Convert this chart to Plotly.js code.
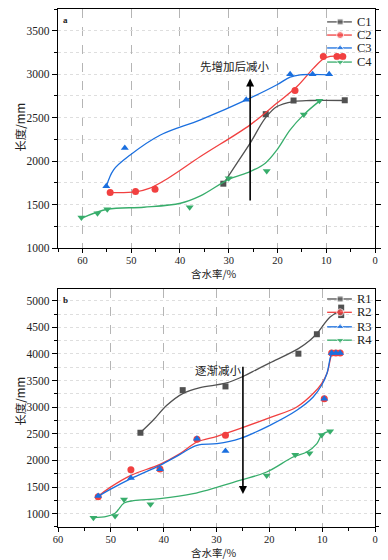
<!DOCTYPE html>
<html><head><meta charset="utf-8">
<script src="https://cdn.plot.ly/plotly-3.0.1.min.js"></script>
<style>html,body{margin:0;padding:0;background:#fff}#chart{width:388px;height:560px}</style>
</head><body><div id="chart"></div>
<script>
// ---------- Panel a : measured points ----------
const namesA = ['C1', 'C2', 'C3', 'C4'];
const c1X = [31.1, 22.4, 16.7, 6.2];
const c1Y = [1740, 2540, 2697, 2700];
const c2X = [54.3, 49.1, 45.1, 16.4, 10.6, 7.8, 6.6];
const c2Y = [1640, 1650, 1675, 2812, 3204, 3204, 3204];
const c3X = [55.1, 51.3, 26.4, 17.4, 12.8, 9.4];
const c3Y = [1710, 2150, 2705, 3000, 3000, 3000];
const c4X = [60.2, 56.9, 54.9, 38.0, 30.0, 22.2, 14.6, 11.4];
const c4Y = [1350, 1400, 1445, 1470, 1803, 1885, 2535, 2695];
// ---------- Panel a : smoothed curves ----------
const c1CurveX = [31.1, 28.3, 25.6, 22.5, 20.1, 16.7, 13.3, 6.1];
const c1CurveY = [1737, 1976, 2206, 2494, 2628, 2685, 2697, 2697];
const c2CurveX = [54.3, 49.1, 46.3, 42.5, 35.8, 25.6, 20.1, 16.0, 12.6, 10.6, 9.2, 6.7];
const c2CurveY = [1637, 1645, 1685, 1800, 2052, 2417, 2667, 2858, 3070, 3174, 3204, 3204];
const c3CurveX = [55.1, 53.6, 50.2, 44.0, 35.8, 25.6, 20.1, 17.4, 15.3, 9.5];
const c3CurveY = [1706, 1900, 2070, 2300, 2475, 2725, 2878, 2967, 2993, 2993];
const c4CurveX = [60.2, 54.9, 47.4, 39.9, 35.8, 30.0, 25.6, 22.5, 20.1, 17.4, 14.6, 11.4];
const c4CurveY = [1342, 1446, 1469, 1515, 1600, 1790, 1879, 1976, 2129, 2359, 2535, 2690];

// ---------- Panel b : measured points ----------
const namesB = ['R1', 'R2', 'R3', 'R4'];
const r1X = [44.4, 36.4, 28.3, 14.5, 11.0, 6.4, 6.4];
const r1Y = [2520, 3320, 3390, 4005, 4370, 4870, 4730];
const r2X = [52.4, 46.2, 40.7, 33.7, 28.3, 9.6, 8.2, 7.4, 6.6];
const r2Y = [1320, 1827, 1840, 2400, 2472, 3160, 4020, 4020, 4020];
const r3X = [52.4, 46.2, 40.7, 33.7, 28.3, 9.6, 8.2, 7.4, 6.6];
const r3Y = [1330, 1670, 1833, 2405, 2177, 3160, 4020, 4020, 4020];
const r4X = [53.3, 49.2, 47.5, 42.5, 20.5, 15.1, 12.4, 10.1, 8.5];
const r4Y = [925, 958, 1265, 1175, 1715, 2105, 2135, 2480, 2550];
// ---------- Panel b : smoothed curves ----------
const r1CurveX = [44.4, 42.0, 39.4, 36.4, 33.1, 28.3, 24.9, 22.4, 19.9, 14.5, 12.3, 11.0, 8.5, 6.6];
const r1CurveY = [2523, 2754, 3036, 3256, 3368, 3450, 3581, 3707, 3831, 4100, 4258, 4383, 4695, 4810];
const r2CurveX = [52.4, 50.2, 46.2, 40.7, 36.9, 33.7, 29.9, 25.6, 19.9, 14.8, 11.7, 10.1, 9.1, 8.5, 8.2];
const r2CurveY = [1325, 1489, 1720, 1927, 2128, 2346, 2453, 2597, 2804, 3004, 3256, 3444, 3632, 3882, 4019];
const r3CurveX = [52.4, 50.2, 46.2, 40.7, 36.9, 33.7, 29.9, 25.6, 19.9, 14.8, 11.7, 10.1, 9.1, 8.5, 8.2];
const r3CurveY = [1325, 1451, 1658, 1908, 2115, 2284, 2316, 2410, 2660, 2942, 3192, 3412, 3632, 3914, 4019];
const r4CurveX = [53.3, 50.8, 49.2, 47.5, 45.7, 40.7, 34.4, 25.6, 20.5, 15.5, 12.9, 11.0, 10.0, 8.5];
const r4CurveY = [925, 949, 1010, 1200, 1245, 1282, 1376, 1626, 1783, 2064, 2158, 2316, 2490, 2550];

// ---------- text ----------
const xTitle = '含水率/%';
const yTitle = '长度/mm';

// ---------- styles ----------
const colors = ['#515151', '#F14040', '#1A6FDF', '#37AD6B'];
const symbols = ['square', 'circle', 'triangle-up', 'triangle-down'];
const msize = [6, 7, 7, 7];
const SERIF = 'Liberation Serif, Times New Roman, Noto Sans CJK SC, serif';
const CJK = 'Noto Sans CJK SC, Liberation Serif, serif';

const seriesA = [[c1X, c1Y, c1CurveX, c1CurveY], [c2X, c2Y, c2CurveX, c2CurveY],
                 [c3X, c3Y, c3CurveX, c3CurveY], [c4X, c4Y, c4CurveX, c4CurveY]];
const seriesB = [[r1X, r1Y, r1CurveX, r1CurveY], [r2X, r2Y, r2CurveX, r2CurveY],
                 [r3X, r3Y, r3CurveX, r3CurveY], [r4X, r4Y, r4CurveX, r4CurveY]];

// legend key layout (fractions of the plot area)
const LEG_KEY_X = [0.849, 0.890, 0.927];
const LEG_TEXT_X = 0.937;
const LEG_ROWS_A = [0.946, 0.891, 0.837, 0.778];
const LEG_ROWS_B = [0.958, 0.902, 0.841, 0.785];

const traces = [];
function addPanel(series, names, xa, ya, lxa, lya, rows) {
  series.forEach((s, i) => {
    traces.push({x: s[2], y: s[3], xaxis: xa, yaxis: ya, mode: 'lines', type: 'scatter',
      line: {color: colors[i], width: 1.3, shape: 'spline', smoothing: 1}, showlegend: false, hoverinfo: 'skip'});
    traces.push({x: s[0], y: s[1], xaxis: xa, yaxis: ya, mode: 'markers', type: 'scatter', name: names[i],
      marker: {color: colors[i], symbol: symbols[i], size: msize[i]}, showlegend: false});
  });
  // legend keys
  names.forEach((n, i) => {
    traces.push({x: LEG_KEY_X, y: [rows[i], rows[i], rows[i]], xaxis: lxa, yaxis: lya,
      mode: 'lines+markers', type: 'scatter', showlegend: false, hoverinfo: 'skip',
      line: {color: colors[i], width: 1.3},
      marker: {color: colors[i], symbol: symbols[i], size: [0, msize[i], 0]}});
  });
}
addPanel(seriesA, namesA, 'x', 'y', 'x3', 'y3', LEG_ROWS_A);
addPanel(seriesB, namesB, 'x2', 'y2', 'x4', 'y4', LEG_ROWS_B);

function xAxis(range, anchor) {
  return {range: range, autorange: false, anchor: anchor, domain: [0, 1], dtick: 10, tick0: 0,
    ticks: 'outside', ticklen: 4, tickwidth: 1, tickcolor: '#000', ticklabelstandoff: -2,
    showline: true, linecolor: '#000', linewidth: 1.2, mirror: true, zeroline: false,
    showgrid: true, gridcolor: '#b5b5b5', griddash: 'dash', gridwidth: 1,
    minor: {dtick: 5, tick0: 0, ticks: 'outside', ticklen: 2.5, tickcolor: '#000', showgrid: false},
    tickfont: {family: SERIF, size: 10.5, color: '#222'}};
}
function yAxis(range, anchor, domain) {
  return {range: range, autorange: false, anchor: anchor, domain: domain, dtick: 500, tick0: 0,
    ticks: 'outside', ticklen: 5, tickwidth: 1, tickcolor: '#000',
    showline: true, linecolor: '#000', linewidth: 1.2, mirror: 'ticks', zeroline: false,
    showgrid: true, gridcolor: '#dedede', griddash: 'dot', gridwidth: 1,
    minor: {dtick: 250, tick0: 0, ticks: 'outside', ticklen: 3, tickcolor: '#000',
      showgrid: true, gridcolor: '#dedede', griddash: 'dot'},
    tickfont: {family: SERIF, size: 11.5, color: '#222'}};
}
const hidden = (ov, anchor) => ({overlaying: ov, anchor: anchor, range: [0, 1], autorange: false, visible: false, fixedrange: true});

const layout = {
  width: 388, height: 560, margin: {l: 58, r: 13, t: 9, b: 33},
  paper_bgcolor: '#fff', plot_bgcolor: '#fff', showlegend: false,
  xaxis: xAxis([65, 0], 'y'),
  yaxis: yAxis([1000, 3750], 'x', [0.5386, 1]),
  xaxis2: xAxis([60, 0], 'y2'),
  yaxis2: yAxis([750, 5220], 'x2', [0, 0.4595]),
  xaxis3: hidden('x', 'y3'), yaxis3: hidden('y', 'x3'),
  xaxis4: hidden('x2', 'y4'), yaxis4: hidden('y2', 'x4'),
  annotations: [],
  font: {family: SERIF}
};
const ann = layout.annotations;
// axis titles (placed as paper annotations)
const titleFont = {family: CJK, size: 10.5, color: '#222'};
ann.push({xref: 'paper', yref: 'paper', x: 0.492, y: 0.4885, xanchor: 'center', yanchor: 'middle',
  text: xTitle, showarrow: false, font: titleFont, borderpad: 0});
ann.push({xref: 'paper', yref: 'paper', x: 0.492, y: -0.0500, xanchor: 'center', yanchor: 'middle',
  text: xTitle, showarrow: false, font: titleFont, borderpad: 0});
ann.push({xref: 'paper', yref: 'paper', x: -0.118, y: 0.772, xanchor: 'center', yanchor: 'middle',
  text: yTitle, textangle: -90, showarrow: false, font: {family: CJK, size: 11.5, color: '#222'}});
ann.push({xref: 'paper', yref: 'paper', x: -0.118, y: 0.243, xanchor: 'center', yanchor: 'middle',
  text: yTitle, textangle: -90, showarrow: false, font: {family: CJK, size: 11.5, color: '#222'}});

namesA.forEach((n, i) => ann.push({xref: 'x domain', yref: 'y domain', x: LEG_TEXT_X, y: LEG_ROWS_A[i],
  xanchor: 'left', yanchor: 'middle', text: n, showarrow: false, font: {family: SERIF, size: 12.5, color: '#222'}}));
namesB.forEach((n, i) => ann.push({xref: 'x2 domain', yref: 'y2 domain', x: LEG_TEXT_X, y: LEG_ROWS_B[i],
  xanchor: 'left', yanchor: 'middle', text: n, showarrow: false, font: {family: SERIF, size: 12.5, color: '#222'}}));
ann.push({xref: 'x domain', yref: 'y domain', x: 0.01, y: 0.985, xanchor: 'left', yanchor: 'top',
  text: '<b>a</b>', showarrow: false, font: {family: SERIF, size: 9, color: '#222'}});
ann.push({xref: 'x2 domain', yref: 'y2 domain', x: 0.01, y: 0.985, xanchor: 'left', yanchor: 'top',
  text: '<b>b</b>', showarrow: false, font: {family: SERIF, size: 9, color: '#222'}});
// arrows
ann.push({xref: 'x', yref: 'y', axref: 'x', ayref: 'y', x: 25.6, y: 2950, ax: 25.6, ay: 1530, text: '',
  showarrow: true, arrowhead: 2, arrowsize: 1, arrowwidth: 1.6, arrowcolor: '#000', standoff: 0, startstandoff: 0});
ann.push({xref: 'x', yref: 'y', x: 28.9, y: 3089, text: '先增加后减小', showarrow: false,
  font: {family: CJK, size: 11.5, color: '#222'}});
ann.push({xref: 'x2', yref: 'y2', axref: 'x2', ayref: 'y2', x: 25.0, y: 1370, ax: 25.0, ay: 3790, text: '',
  showarrow: true, arrowhead: 2, arrowsize: 1, arrowwidth: 1.6, arrowcolor: '#000', standoff: 0, startstandoff: 0});
ann.push({xref: 'x2', yref: 'y2', x: 29.7, y: 3694, text: '逐渐减小', showarrow: false,
  font: {family: CJK, size: 11.5, color: '#222'}});

Plotly.newPlot('chart', traces, layout, {displayModeBar: false, staticPlot: true});
</script></body></html>
